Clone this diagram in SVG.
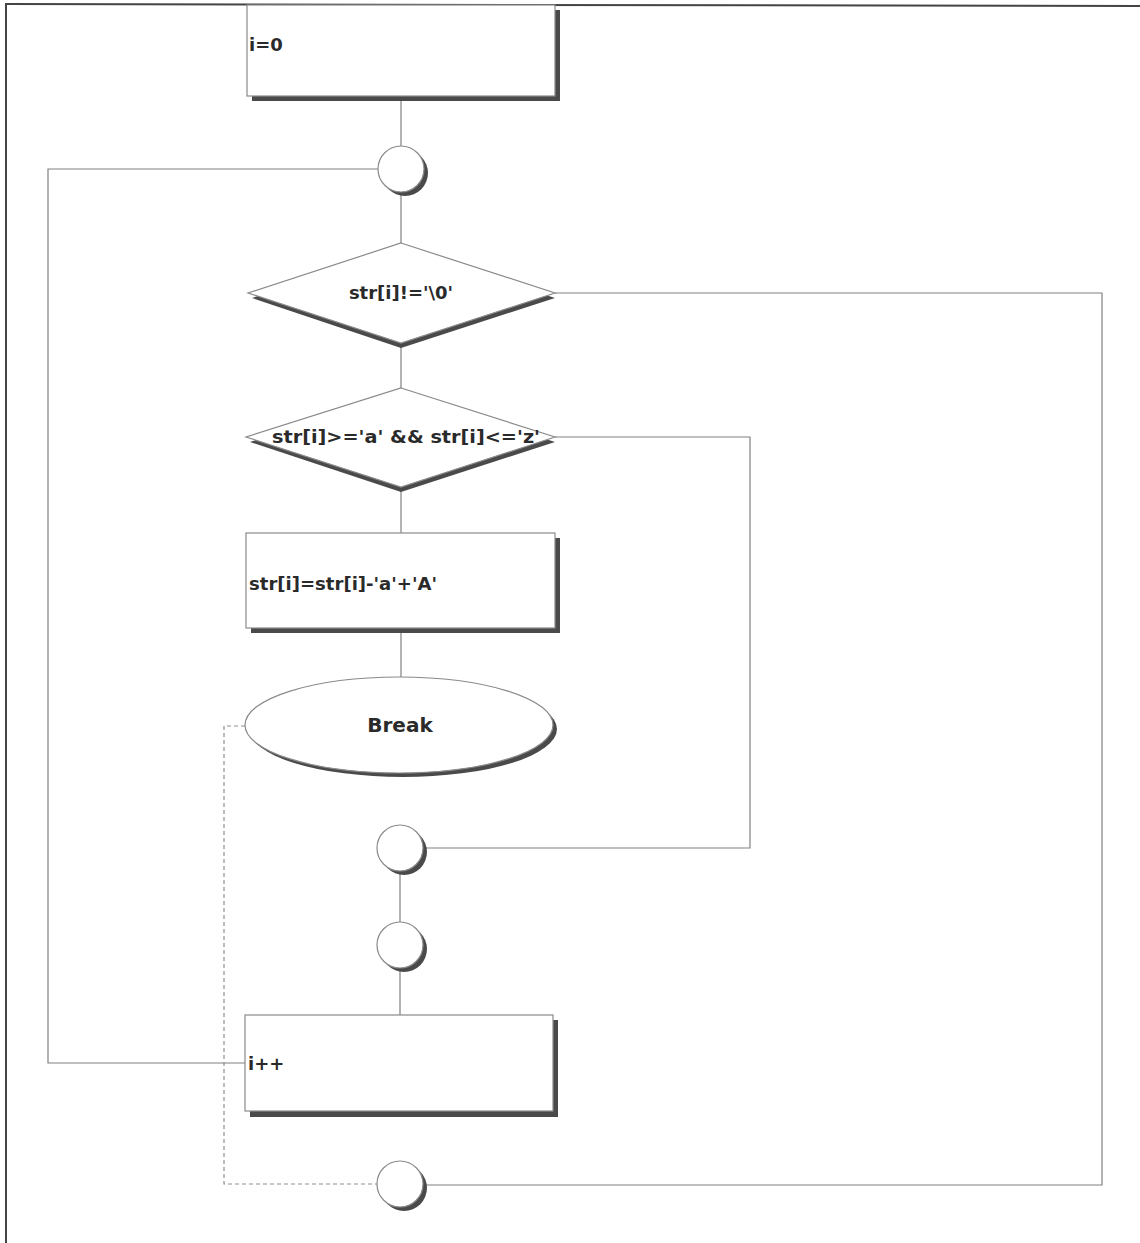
<svg xmlns="http://www.w3.org/2000/svg" width="1140" height="1243" viewBox="0 0 1140 1243">
<style>
.frame{stroke:#444;stroke-width:2;fill:none}
.conn{stroke:#808080;stroke-width:1.2;fill:none}
.dash{stroke:#909090;stroke-width:1.2;fill:none;stroke-dasharray:4,3}
.shape{fill:#fff;stroke:#8a8a8a;stroke-width:1.2}
.shadow{fill:#4a4a4a;stroke:none}
.lbl{font-family:"DejaVu Sans","Liberation Sans",sans-serif;font-weight:bold;font-size:18px;fill:#2a2a2a}
</style>
<rect width="1140" height="1243" fill="#fff"/>
<g id="frame">
<line class="frame" x1="5" y1="4" x2="1140" y2="6"/>
<line class="frame" x1="6" y1="4" x2="6" y2="1243"/>
</g>
<g id="connectors">
<line class="conn" x1="401" y1="96" x2="401" y2="146"/>
<line class="conn" x1="401" y1="192" x2="401" y2="243"/>
<line class="conn" x1="401" y1="343" x2="401" y2="388"/>
<line class="conn" x1="401" y1="487" x2="401" y2="533"/>
<line class="conn" x1="401" y1="628" x2="401" y2="677"/>
<line class="conn" x1="400" y1="871" x2="400" y2="922"/>
<line class="conn" x1="400" y1="968" x2="400" y2="1015"/>
<polyline class="conn" points="378,169 48,169 48,1063 245,1063"/>
<polyline class="conn" points="555,293 1102,293 1102,1185 423,1185"/>
<polyline class="conn" points="555,437 750,437 750,848 424,848"/>
<polyline class="dash" points="245,726 224,726 224,1184 377,1184"/>
</g>
<g id="n_i0">
<rect class="shadow" x="252" y="10" width="308" height="91"/>
<rect class="shape" x="247" y="5" width="308" height="91"/>
<text class="lbl" x="249" y="51">i=0</text>
</g>
<g id="c1">
<circle class="shadow" cx="405" cy="173" r="23"/>
<circle class="shape" cx="401" cy="169" r="23"/>
</g>
<g id="d1">
<polygon class="shadow" points="401,248 555,298 401,348 252,298"/>
<polygon class="shape" points="401,243 555,293 401,343 248,293"/>
<text class="lbl" x="401" y="299" text-anchor="middle">str[i]!='\0'</text>
</g>
<g id="d2">
<polygon class="shadow" points="401,393 555,442 401,492 250,442"/>
<polygon class="shape" points="401,388 555,437 401,487 246,437"/>
<text class="lbl" x="406" y="443" text-anchor="middle" textLength="268" lengthAdjust="spacingAndGlyphs">str[i]&gt;='a' &amp;&amp; str[i]&lt;='z'</text>
</g>
<g id="n_assign">
<rect class="shadow" x="251" y="538" width="309" height="95"/>
<rect class="shape" x="246" y="533" width="309" height="95"/>
<text class="lbl" x="249" y="590" textLength="188" lengthAdjust="spacingAndGlyphs">str[i]=str[i]-'a'+'A'</text>
</g>
<g id="n_break">
<ellipse class="shadow" cx="403" cy="729" rx="154" ry="48"/>
<ellipse class="shape" cx="399" cy="725" rx="154" ry="48"/>
<text class="lbl" x="400" y="732" text-anchor="middle" style="font-size:20px">Break</text>
</g>
<g id="c3">
<circle class="shadow" cx="404" cy="852" r="23"/>
<circle class="shape" cx="400" cy="848" r="23"/>
</g>
<g id="c4">
<circle class="shadow" cx="404" cy="949" r="23"/>
<circle class="shape" cx="400" cy="945" r="23"/>
</g>
<g id="n_inc">
<rect class="shadow" x="250" y="1020" width="308" height="97"/>
<rect class="shape" x="245" y="1015" width="308" height="96"/>
<text class="lbl" x="248" y="1070">i++</text>
</g>
<g id="c5">
<circle class="shadow" cx="404" cy="1188" r="23"/>
<circle class="shape" cx="400" cy="1184" r="23"/>
</g>
</svg>
